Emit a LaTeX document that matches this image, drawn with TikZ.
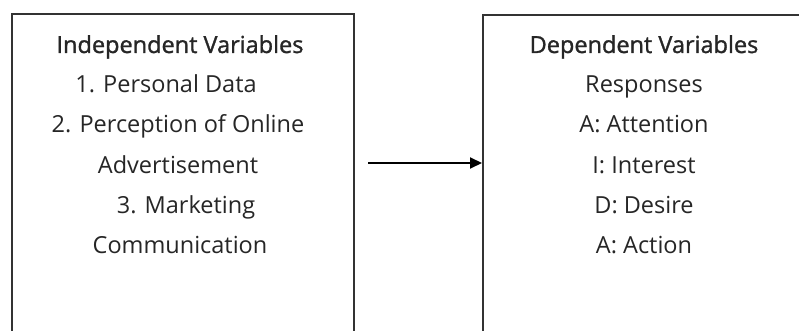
\documentclass[tikz,border=0pt]{standalone}
\usepackage{fontspec}
\setmainfont{Open Sans}
\newfontfamily\titlefont[FakeBold=1.2]{Open Sans}
\usetikzlibrary{arrows.meta}
\definecolor{ink}{HTML}{262626}
\definecolor{frame}{HTML}{333333}
\tikzset{
  varbox/.style={draw=frame, line width=1.8pt, rectangle, inner sep=0pt},
  ttl/.style={anchor=base, text=ink, font=\titlefont\fontsize{23.5}{28}\selectfont, inner sep=0pt},
  itm/.style={anchor=base, text=ink, font=\fontsize{23.5}{28}\selectfont, inner sep=0pt},
  link/.style={draw=black, line width=2pt, -{Triangle[length=12pt,width=11pt]}}
}
\begin{document}
\begin{tikzpicture}[x=1pt,y=-1pt]
\useasboundingbox (0,0) rectangle (799,331);
\clip (0,0) rectangle (799,331);
\fill[white] (0,0) rectangle (799,331);
\node[varbox, minimum width=342pt, minimum height=340pt, anchor=north west] (L) at (11,13) {};
\node[varbox, minimum width=342pt, minimum height=340pt, anchor=north west] (R) at (482,14) {};
% left texts
\node[ttl] (lt) at (180,53) {Independent Variables};
\node[itm] (l1) at (166,93) {1. Personal Data};
\node[itm] (l2) at (178,133) {2. Perception of Online};
\node[itm] (l3) at (178,173) {Advertisement};
\node[itm] (l4) at (186,213) {3. Marketing};
\node[itm] (l5) at (180,253) {Communication};
% right texts
\node[ttl] (rt) at (644,53) {Dependent Variables};
\node[itm] (r1) at (644,93) {Responses};
\node[itm] (r2) at (644,133) {A: Attention};
\node[itm] (r3) at (644,173) {I: Interest};
\node[itm] (r4) at (644,213) {D: Desire};
\node[itm] (r5) at (644,253) {A: Action};
% arrow
\coordinate (s) at (368,163);
\draw[link] (s) -- (R.west |- s);
\end{tikzpicture}
\end{document}
